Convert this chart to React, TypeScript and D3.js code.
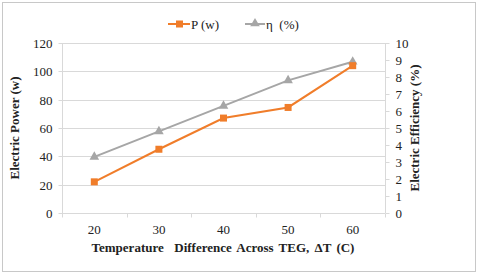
import React from 'react'
import * as d3 from 'd3'

const deltaT = ['20', '30', '40', '50', '60']
const power = [22, 45, 67, 74.5, 104]
const efficiency = [3.3, 4.8, 6.3, 7.8, 8.9]
const powerTicks = [0, 20, 40, 60, 80, 100, 120]
const effTicks = [0, 1, 2, 3, 4, 5, 6, 7, 8, 9, 10]

const W = 480
const H = 276
const font = { fontFamily: '"Liberation Serif"', fontSize: 13 }
const orange = '#f07d2a'
const grey = '#a6a6a6'
const axisGrey = '#d9d9d9'
const ink = '#222'

const left = 62, right = 385, top = 43, bottom = 213

const x = d3.scaleBand().domain(deltaT).range([left, right])
const yP = d3.scaleLinear().domain([0, 120]).range([bottom, top])
const yE = d3.scaleLinear().domain([0, 10]).range([bottom, top])
const cx = (d: string) => x(d)! + x.bandwidth() / 2
const px = (v: number) => Math.round(v) + 0.5

const lineP = d3.line<number>().x((_, i) => cx(deltaT[i])).y(d => yP(d))
const lineE = d3.line<number>().x((_, i) => cx(deltaT[i])).y(d => yE(d))
const tri = d3.symbol().type(d3.symbolTriangle).size(40)()!

const App = () => {
  const midY = (top + bottom) / 2
  return (
    <svg width={W} height={H} style={{ position: 'absolute', left: 0, top: 0, display: 'block' }}>
      <rect x={2.5} y={2.5} width={473} height={269} fill="#fff" stroke="#c8c8c8" />

      {/* gridlines */}
      {powerTicks.slice(1).map(t => (
        <line key={t} x1={left} x2={right} y1={px(yP(t))} y2={px(yP(t))} stroke={axisGrey} />
      ))}

      {/* left axis */}
      <line x1={px(left)} x2={px(left)} y1={top} y2={bottom} stroke={axisGrey} />
      {powerTicks.map(t => (
        <g key={t} transform={`translate(${px(left)},${px(yP(t))})`}>
          <line x1={-4} x2={0} stroke={axisGrey} />
          <text x={-10} dy="0.32em" textAnchor="end" fill={ink} style={font}>{t}</text>
        </g>
      ))}

      {/* right axis */}
      <line x1={px(right)} x2={px(right)} y1={top} y2={bottom} stroke={axisGrey} />
      {effTicks.map(t => (
        <g key={t} transform={`translate(${px(right)},${px(yE(t))})`}>
          <line x1={0} x2={4} stroke={axisGrey} />
          <text x={10} dy="0.32em" textAnchor="start" fill={ink} style={font}>{t}</text>
        </g>
      ))}

      {/* bottom axis */}
      <line x1={left} x2={right} y1={px(bottom)} y2={px(bottom)} stroke={axisGrey} />
      {[...deltaT.map(d => x(d)!), right].map((v, i) => (
        <line key={i} x1={px(v)} x2={px(v)} y1={px(bottom)} y2={px(bottom) + 4} stroke={axisGrey} />
      ))}
      {deltaT.map(d => (
        <text key={d} x={cx(d)} y={bottom + 21} textAnchor="middle" fill={ink} style={font}>{d}</text>
      ))}

      {/* efficiency series */}
      <path d={lineE(efficiency)!} fill="none" stroke={grey} strokeWidth={2} />
      {efficiency.map((v, i) => (
        <path key={i} d={tri} transform={`translate(${cx(deltaT[i])},${yE(v)})`} fill={grey} />
      ))}

      {/* power series */}
      <path d={lineP(power)!} fill="none" stroke={orange} strokeWidth={2} />
      {power.map((v, i) => (
        <rect key={i} x={cx(deltaT[i]) - 3.5} y={yP(v) - 3.5} width={7} height={7} fill={orange} />
      ))}

      {/* legend */}
      <line x1={168} x2={190} y1={24} y2={24} stroke={orange} strokeWidth={2} />
      <rect x={176} y={20.5} width={7} height={7} fill={orange} />
      <text x={191} y={28.5} fill={ink} style={font}>P (w)</text>
      <line x1={245} x2={265} y1={24} y2={24} stroke={grey} strokeWidth={2} />
      <path d={tri} transform="translate(255,23.5)" fill={grey} />
      <text x={266} y={28.5} fill={ink} style={{ ...font, whiteSpace: 'pre' }}>{'η  (%)'}</text>

      {/* axis titles */}
      <text x={223} y={252} textAnchor="middle" fontWeight="bold" fill={ink}
        style={{ ...font, whiteSpace: 'pre', wordSpacing: 2 }}>{'Temperature  Difference Across TEG, ΔT (C)'}</text>
      <text transform={`translate(19,${midY}) rotate(-90)`} textAnchor="middle" fontWeight="bold"
        fill={ink} style={font}>Electric Power (w)</text>
      <text transform={`translate(419,${midY}) rotate(-90)`} textAnchor="middle" fontWeight="bold"
        fill={ink} style={font}>Electric Efficiency (%)</text>
    </svg>
  )
}

export default App
